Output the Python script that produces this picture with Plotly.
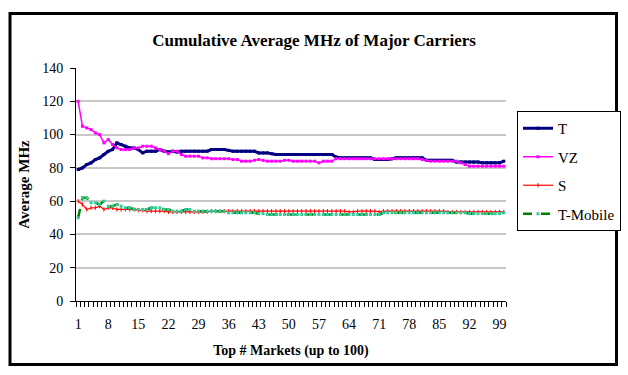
import plotly.graph_objects as go

markets = list(range(1, 101))
tick_labels = [str(v) for v in range(1, 101, 7)]

t_vals = [79, 80, 82, 83, 85, 86, 88, 90, 91, 95,
          94, 93, 92, 92, 91, 89, 90, 90, 90, 91,
          90, 89.5, 90, 89.5, 90, 90, 90, 90, 90, 90,
          90, 91, 91, 91, 91, 90.5, 90, 90, 90, 90,
          90, 90, 89, 89, 89, 88.5, 88, 88, 88, 88,
          88, 88, 88, 88, 88, 88, 88, 88, 88, 88,
          86.5, 86, 86, 86, 86, 86, 86, 86, 86, 85,
          85, 85, 85, 85.5, 86, 86, 86, 86, 86, 86,
          86, 84.5, 84.5, 84.5, 84.5, 84.5, 84.5, 84.5, 83.5, 83.5,
          83.5, 83.5, 83.5, 83.5, 83, 83, 83, 83, 83, 84]

vz_vals = [120, 105, 104, 103, 101, 100, 95, 97, 94, 92,
           91, 91, 91, 92, 92, 93, 93, 93, 92, 91,
           90, 88.5, 90, 90, 88, 87, 87, 87, 87, 86,
           86, 85.5, 85.5, 85.5, 85.5, 85.5, 85, 85, 84, 84,
           84, 84.5, 85, 84.5, 84, 84, 84, 84, 84.5, 84.5,
           84, 84, 84, 84, 84, 84, 83, 84, 84, 84,
           85.5, 85.5, 85.5, 85.5, 85.5, 85.5, 85.5, 85.5, 85.5, 85.5,
           85.5, 85.5, 85.5, 85.5, 85.5, 85.5, 85.5, 85.5, 85.5, 85.5,
           85, 84.5, 84, 84, 84, 84, 84, 84, 84, 83,
           82, 81, 81, 81, 81, 81, 81, 81, 81, 81]

s_vals = [60, 58, 55, 56, 56, 57, 55, 56, 56, 55,
          55, 55, 55, 55, 54.5, 54.5, 54, 54, 54, 54,
          54, 53.5, 53.5, 53.5, 53.5, 53.5, 53.5, 53.5, 53.5, 53.5,
          53.5, 54, 54, 54, 54, 54, 54, 54, 54, 54,
          54, 54, 54, 54, 54, 54, 54, 54, 54, 54,
          54, 54, 54, 54, 54, 54, 54, 54, 54, 54,
          54, 54, 54, 53.5, 53.5, 54, 54, 54, 54, 54,
          53.5, 54, 54, 54, 54, 54, 54, 54, 54, 54,
          54, 54, 54, 54, 54, 54, 53.5, 53.5, 53.5, 53.5,
          53.5, 53.5, 53.5, 53.5, 53.5, 53.5, 53.5, 53.5, 53.5, 53.5]

tm_vals = [50, 62, 62, 59, 59, 58, 60, 57, 57, 58,
           57, 56, 56, 55, 55, 55, 55, 56, 56, 56,
           55, 55, 54, 54, 54, 55, 55, 54, 54, 54,
           54, 54, 54, 54, 54, 53, 53, 53, 53, 53,
           53, 53, 52.5, 52.5, 52, 52, 52, 52, 52, 52,
           52, 52, 52, 52, 52, 52, 52, 52, 52, 52,
           52, 52, 52, 52, 52, 52, 52, 52, 52, 52,
           52, 53, 53, 53, 53, 53, 53, 53, 53, 53,
           53, 53, 53, 53, 53, 53, 53, 53, 53, 53,
           53, 52.5, 52.5, 52.5, 52.5, 52.5, 52.5, 52.5, 52.5, 53]

SERIF = "Liberation Serif"

fig = go.Figure()
fig.add_trace(go.Scatter(x=markets, y=t_vals, name="T", mode="lines+markers",
                         line=dict(color="#000080", width=3),
                         marker=dict(symbol="square", size=3, color="#000080"),
                         legendgroup="a"))
fig.add_trace(go.Scatter(x=markets, y=vz_vals, name="VZ", mode="lines+markers",
                         line=dict(color="#FF00FF", width=1.5),
                         marker=dict(symbol="square", size=3, color="#FF00FF"),
                         legendgroup="b"))
fig.add_trace(go.Scatter(x=markets, y=s_vals, name="S", mode="lines+markers",
                         line=dict(color="#FF0000", width=1.2),
                         marker=dict(symbol="line-ns", size=3, color="#FF0000",
                                     line=dict(color="#FF0000", width=1)),
                         legendgroup="c"))
fig.add_trace(go.Scatter(x=markets, y=tm_vals, name="T-Mobile", mode="lines+markers",
                         line=dict(color="#008000", width=2.5, dash="dash"),
                         marker=dict(symbol="square", size=3, color="#33CC99"),
                         legendgroup="d"))

L, R, T, B = 76, 122, 68, 74
W, H = 628, 375
pw, ph = W - L - R, H - T - B

def px(x):
    return (x - L) / pw

def py(y):
    return (H - B - y) / ph

fig.update_layout(
    width=W, height=H,
    margin=dict(l=L, r=R, t=T, b=B, autoexpand=False),
    paper_bgcolor="white", plot_bgcolor="white",
    font=dict(family=SERIF, size=14, color="black"),
    title=dict(text="<b>Cumulative Average MHz of Major Carriers</b>",
               x=314 / W, xref="container", xanchor="center",
               y=1 - 40 / H, yref="container", yanchor="middle",
               font=dict(family=SERIF, size=17, color="black")),
    xaxis=dict(range=[0.5, 100.5], tickmode="array",
               tickvals=list(range(1, 101, 7)), ticktext=tick_labels,
               ticks="", showgrid=False, zeroline=False, automargin=False,
               showline=True, linecolor="black", linewidth=1,
               ticklabelstandoff=10,
               minor=dict(tickmode="linear", tick0=0.5, dtick=1, ticks="outside",
                          ticklen=5, tickcolor="black", tickwidth=1, showgrid=False),
               tickfont=dict(family=SERIF, size=14, color="black"),
               title=dict(text="<b>Top # Markets (up to 100)</b>",
                          font=dict(family=SERIF, size=14, color="black"),
                          standoff=14)),
    yaxis=dict(range=[0, 140], dtick=20, tick0=0, ticks="outside", ticklen=5,
               tickcolor="black", showgrid=True, gridcolor="#C8C8C8", gridwidth=1.5,
               zeroline=False, showline=True, linecolor="black", linewidth=1,
               automargin=False, ticklabelstandoff=4,
               tickfont=dict(family=SERIF, size=14, color="black"),
               title=dict(text="<b>Average MHz</b>",
                          font=dict(family=SERIF, size=15, color="black"),
                          standoff=8)),
    legend=dict(x=px(517), y=py(111), xanchor="left", yanchor="top",
                bordercolor="black", borderwidth=1, bgcolor="white",
                font=dict(family=SERIF, size=15, color="black"),
                traceorder="grouped", tracegroupgap=6, itemwidth=30),
    shapes=[
        dict(type="rect", xref="paper", yref="paper",
             x0=px(10), x1=px(616.5), y0=py(364.5), y1=py(13.5),
             line=dict(color="black", width=3), layer="above"),
    ],
)

fig.write_html("out.html", config={"displayModeBar": False},
               post_script="document.body.style.margin='0';document.body.style.padding='0';")
